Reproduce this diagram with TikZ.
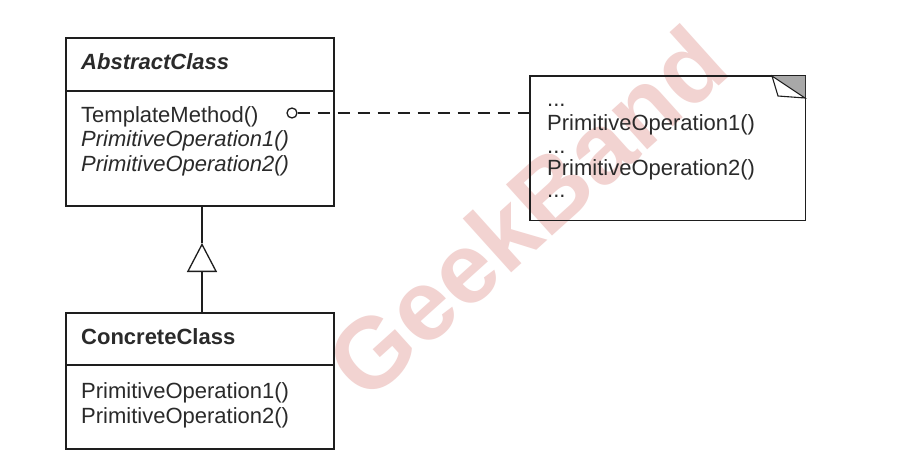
\documentclass[tikz,border=0pt]{standalone}
\usepackage{fontspec}
\setmainfont{Liberation Sans}
\usetikzlibrary{arrows.meta}
\definecolor{ink}{HTML}{1E1E1E}
\definecolor{txt}{HTML}{2A2A2A}
\definecolor{wmark}{RGB}{242,211,209}
\definecolor{foldgray}{HTML}{A8A8A8}
\begin{document}
\begin{tikzpicture}[x=1pt,y=-1pt,
  lbl/.style={anchor=base west,inner sep=0pt,text=txt,font=\fontsize{22}{26}\selectfont},
  dots/.style={lbl,text height=4pt,text depth=0pt},
  boxline/.style={draw=ink,line width=1.7pt},
  umlclass/.style={boxline,rectangle,inner sep=0pt,anchor=north west},
  dep/.style={draw=ink,line width=1.7pt,dash pattern=on 12pt off 8pt},
  gen/.style={draw=ink,line width=1.7pt}]
\useasboundingbox (0,0) rectangle (914,474);
\fill[white] (0,0) rectangle (914,474);

% watermark
\node[rotate=42,text=wmark,font=\fontsize{100}{100}\selectfont\bfseries,inner sep=0pt] (wm) at (526,212) {GeekBand};

% abstract class
\node[umlclass,minimum width=268pt,minimum height=168pt] (abs) at (65,37) {};
\draw[boxline] (65,91) -- (333,91);
\node[lbl,font=\fontsize{22}{26}\selectfont\bfseries\itshape] (absname) at (81,69) {AbstractClass};
\node[lbl] (tm) at (81,122) {TemplateMethod()};
\node[lbl,font=\fontsize{22}{26}\selectfont\itshape] (apo1) at (81,146) {PrimitiveOperation1()};
\node[lbl,font=\fontsize{22}{26}\selectfont\itshape] (apo2) at (81,171) {PrimitiveOperation2()};

% concrete class
\node[umlclass,minimum width=268pt,minimum height=136pt] (conc) at (65,312) {};
\draw[boxline] (65,365) -- (333,365);
\node[lbl,font=\fontsize{22}{26}\selectfont\bfseries] (concname) at (81,344) {ConcreteClass};
\node[lbl] (cpo1) at (81,398) {PrimitiveOperation1()};
\node[lbl] (cpo2) at (81,423) {PrimitiveOperation2()};

% note with folded corner
\node[rectangle,inner sep=0pt,minimum width=275pt,minimum height=144pt,anchor=north west] (note) at (530,76) {};
\draw[boxline] (note.north west) rectangle (note.south east);
\fill[foldgray] (772,76) -- (805,76) -- (805,98) -- cycle;
\draw[ink,line width=1.1pt,fill=white] (772,76) -- (778,96) -- (805,98) -- cycle;
\node[dots] (n1) at (547,106) {...};
\node[lbl] (n2) at (547,130) {PrimitiveOperation1()};
\node[dots] (n3) at (547,153) {...};
\node[lbl] (n4) at (547,175) {PrimitiveOperation2()};
\node[dots] (n5) at (547,197) {...};

% dependency from TemplateMethod to the note
\node[circle,draw=ink,line width=1.3pt,minimum size=10pt,inner sep=0pt] (dot) at (292,113) {};
\draw[dep] (dot.east) -- (note.west |- dot.east);

% generalization
\coordinate (tip) at (202,243);
\draw[gen] (abs.south -| tip) -- (tip);
\draw[gen,-{Triangle[open,length=29pt,width=30pt,line width=1.3pt]}] (conc.north -| tip) -- (tip);
\end{tikzpicture}
\end{document}
